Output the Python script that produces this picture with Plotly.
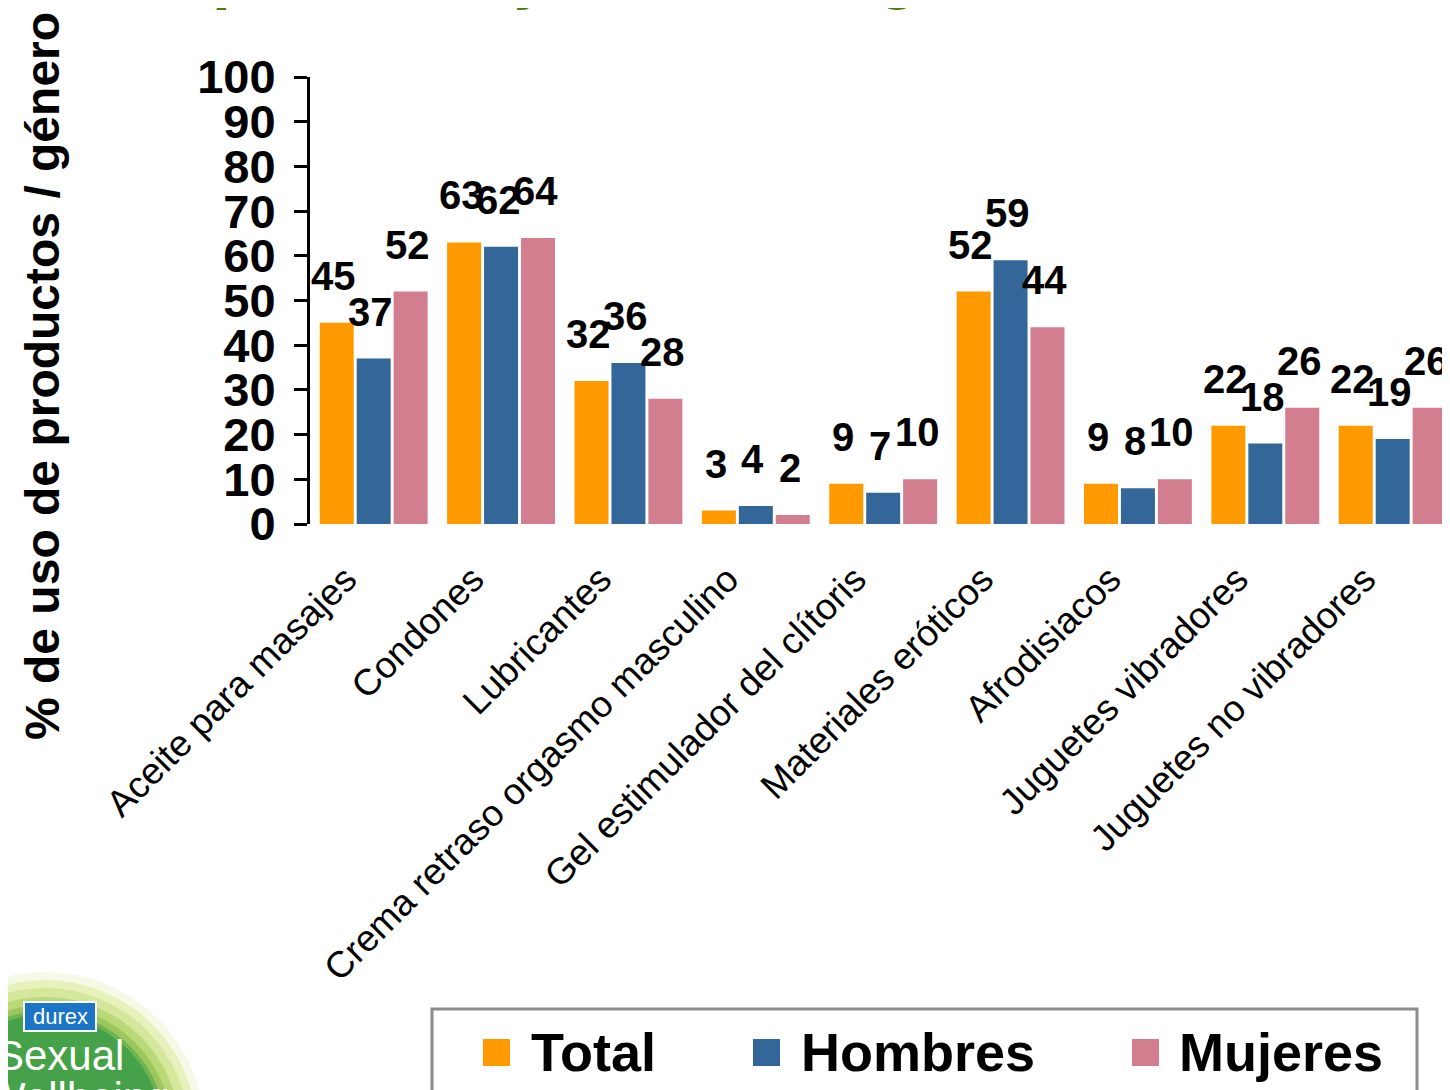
import plotly.graph_objects as go

# ---------------- data ----------------
categories = ["Aceite para masajes", "Condones", "Lubricantes",
              "Crema retraso orgasmo masculino", "Gel estimulador del clítoris",
              "Materiales eróticos", "Afrodisiacos", "Juguetes vibradores",
              "Juguetes no vibradores"]
series_names = ["Total", "Hombres", "Mujeres"]
total = [45, 63, 32, 3, 9, 52, 9, 22, 22]
hombres = [37, 62, 36, 4, 7, 59, 8, 18, 19]
mujeres = [52, 64, 28, 2, 10, 44, 10, 26, 26]
y_ticks = [0, 10, 20, 30, 40, 50, 60, 70, 80, 90, 100]
y_title = "% de uso de productos / género"
chart_title = "Uso de productos por la mujer, varón / género"

colors = ["#FF9900", "#336699", "#D37E8F"]
series = [total, hombres, mujeres]

OFF = 8  # page body margin
W, H = 1442, 1082
ML, MR, MT, MB = 302, 0, 69, 566
PW, PH = W - ML - MR, H - MT - MB


def px(x):
    """page pixel x -> paper coordinate"""
    return (x - OFF - ML) / PW


def py(y):
    """page pixel y -> paper coordinate"""
    return 1 - (y - OFF - MT) / PH


FONT = "Liberation Sans, Arial, sans-serif"

bargap, groupgap = 0.13, 0.08

fig = go.Figure()
for name, vals, col in zip(series_names, series, colors):
    fig.add_trace(go.Bar(x=categories, y=vals, name=name,
                         marker=dict(color=col, line=dict(width=0)),
                         showlegend=False))

annotations = []
# data labels
slot = (1 - bargap) / len(series)
for k, vals in enumerate(series):
    off = (k - 1) * slot
    for i, v in enumerate(vals):
        annotations.append(dict(x=i + off, y=v, xref="x", yref="y",
                                text=str(v), showarrow=False,
                                yanchor="middle", yshift=47, xshift=-3,
                                font=dict(family=FONT, size=40, color="black",
                                          weight="bold")))

# y axis title
annotations.append(dict(x=px(42), y=py(376), xref="paper", yref="paper",
                        text=y_title, textangle=-90, showarrow=False,
                        xanchor="center", yanchor="middle",
                        font=dict(family=FONT, size=48, color="black",
                                  weight="bold")))

# chart title (mostly cut off at top)
annotations.append(dict(x=px(-387), y=py(12), xref="paper", yref="paper",
                        text=chart_title, showarrow=False,
                        xanchor="left", yanchor="bottom",
                        font=dict(family=FONT, size=68, color="#4A7C12",
                                  weight="bold")))

shapes = []
# legend box
shapes.append(dict(type="rect", xref="paper", yref="paper",
                   x0=px(432), x1=px(1417), y0=py(1110), y1=py(1009),
                   line=dict(color="#8C8C8C", width=3), fillcolor="white"))
leg_sq_x = [483, 753, 1132]
leg_tx_x = [529, 799, 1177]
for name, col, sx, tx in zip(series_names, colors, leg_sq_x, leg_tx_x):
    shapes.append(dict(type="rect", xref="paper", yref="paper",
                       x0=px(sx), x1=px(sx + 27), y0=py(1066), y1=py(1039),
                       line=dict(width=0), fillcolor=col))
    annotations.append(dict(x=px(tx), y=py(1052), xref="paper", yref="paper",
                            text=name, showarrow=False, xanchor="left",
                            yanchor="middle",
                            font=dict(family=FONT, size=54, color="black",
                                      weight="bold")))

# logo (durex sexual wellbeing)
cx, cy = 45, 1132
for r, c in [(160, "#F5FAE6"), (152, "#E6F1BC"), (144, "#D4E79A"),
             (135, "#B9D877"), (127, "#9CC75C"), (121, "#6FB452"),
             (117, "#45A248")]:
    shapes.append(dict(type="circle", xref="paper", yref="paper",
                       x0=px(cx - r), x1=px(cx + r), y0=py(cy + r), y1=py(cy - r),
                       line=dict(width=0), fillcolor=c, layer="above"))
shapes.append(dict(type="rect", xref="paper", yref="paper",
                   x0=px(24), x1=px(96), y0=py(1031), y1=py(1002),
                   line=dict(color="white", width=2), fillcolor="#1C74C6",
                   layer="above"))
annotations.append(dict(x=px(60), y=py(1016), xref="paper", yref="paper",
                        text="durex", showarrow=False, xanchor="center",
                        yanchor="middle",
                        font=dict(family=FONT, size=22, color="white")))
annotations.append(dict(x=px(-6), y=py(1055), xref="paper", yref="paper",
                        text="Sexual", showarrow=False, xanchor="left",
                        yanchor="middle",
                        font=dict(family=FONT, size=42, color="white")))
annotations.append(dict(x=px(-16), y=py(1097), xref="paper", yref="paper",
                        text="Wellbeing", showarrow=False, xanchor="left",
                        yanchor="middle",
                        font=dict(family=FONT, size=42, color="white")))

fig.update_layout(
    width=W, height=H,
    margin=dict(l=ML, r=MR, t=MT, b=MB, autoexpand=False),
    paper_bgcolor="white", plot_bgcolor="white",
    barmode="group", bargap=bargap, bargroupgap=groupgap,
    annotations=annotations, shapes=shapes,
    xaxis=dict(range=[-0.5, 8.45], showline=False, ticks="", showgrid=False,
               tickangle=-45, automargin=False,
               ticklabelshift=-28, ticklabelstandoff=25,
               tickfont=dict(family=FONT, size=37, color="black")),
    yaxis=dict(range=[0, 100], tickvals=y_ticks, showgrid=False,
               zeroline=False, showline=True, linecolor="black", linewidth=3,
               ticks="outside", ticklen=13, tickwidth=3, tickcolor="black",
               automargin=False, ticklabelstandoff=9,
               tickfont=dict(family=FONT, size=47, color="black", weight="bold")),
)

fig.write_html("out.html")
